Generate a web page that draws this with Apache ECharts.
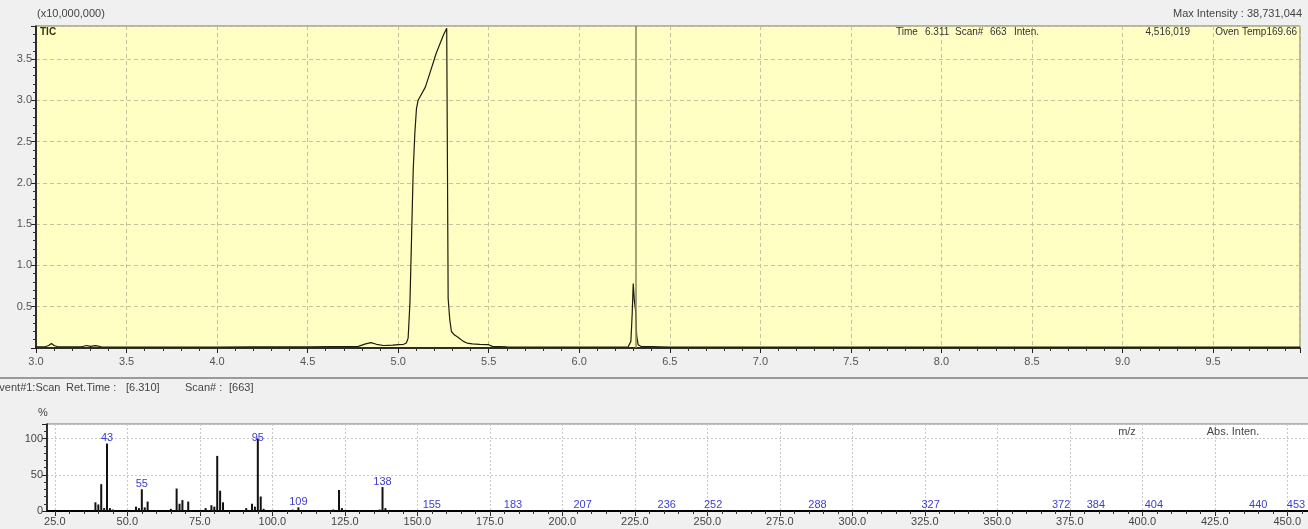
<!DOCTYPE html>
<html>
<head>
<meta charset="utf-8">
<script src="https://cdn.jsdelivr.net/npm/echarts@6/dist/echarts.min.js"></script>
<style>
  html, body { margin: 0; padding: 0; background: #f0f0f0; }
  #c { width: 1308px; height: 529px; }
</style>
</head>
<body>
<div id="c"></div>
<script>
// Total ion chromatogram: retention time (min) and intensity (x10,000,000)
const ticTime = [
  3.00, 3.05, 3.07, 3.085, 3.10, 3.12, 3.25, 3.28, 3.30, 3.33,
  3.36, 3.50, 3.80, 4.00, 4.20, 4.50, 4.78, 4.82, 4.85, 4.88,
  4.92, 4.97, 5.00, 5.03, 5.045, 5.055, 5.065, 5.074, 5.083, 5.092,
  5.101, 5.110, 5.120, 5.150, 5.175, 5.210, 5.250, 5.268, 5.276, 5.285,
  5.294, 5.310, 5.330, 5.335, 5.340, 5.360, 5.380, 5.410, 5.450, 5.500,
  5.520, 5.600, 6.000, 6.200, 6.270, 6.285, 6.292, 6.298, 6.304, 6.311,
  6.317, 6.325, 6.340, 6.450, 6.500, 7.000, 8.000, 9.000, 9.980
];
const ticValue = [
  0.015, 0.015, 0.030, 0.055, 0.030, 0.015, 0.015, 0.030, 0.020, 0.028,
  0.015, 0.012, 0.012, 0.012, 0.014, 0.015, 0.020, 0.050, 0.065, 0.045,
  0.030, 0.035, 0.040, 0.045, 0.060, 0.120, 0.550, 1.350, 2.150, 2.600,
  2.900, 3.000, 3.040, 3.160, 3.330, 3.570, 3.790, 3.873, 0.600, 0.340,
  0.200, 0.160, 0.130, 0.150, 0.120, 0.080, 0.060, 0.050, 0.045, 0.040,
  0.020, 0.015, 0.012, 0.012, 0.015, 0.080, 0.400, 0.780, 0.580, 0.4516,
  0.150, 0.040, 0.020, 0.015, 0.012, 0.010, 0.010, 0.010, 0.010
];
const scanTime = 6.311;

// Mass spectrum of scan 663: m/z and relative intensity (%)
const mzValues = [
  39, 40, 41, 42, 43, 44, 45, 53, 54, 55,
  56, 57, 65, 67, 68, 69, 71, 77, 79, 80,
  81, 82, 83, 91, 93, 94, 95, 96, 97, 107,
  109, 121, 123, 124, 137, 138, 139, 155, 183, 207,
  236, 252, 288, 327, 372, 384, 404, 440, 453
];
const mzPercent = [
  12, 9, 37, 4, 93, 4, 2, 6, 4, 30,
  5, 13, 3, 31, 10, 15, 13, 4, 8, 6,
  76, 28, 12, 4, 10, 6, 100, 20, 3, 2,
  5, 2, 29, 4, 2, 33, 4, 1, 1, 1,
  1, 1, 1, 1, 1, 1, 1, 1, 1
];
const mzLabeled = [43, 55, 95, 109, 138, 155, 183, 207, 236, 252, 288, 327, 372, 384, 404, 440, 453];
const mzTickLabels = [25, 50, 75, 100, 125, 150, 175, 200, 225, 250, 275, 300, 325, 350, 375, 400, 425, 450];

const FONT = '"Liberation Sans", Arial, sans-serif';
const mzMinorTicks = [];
for (let v = 25; v <= 460; v += 5) mzMinorTicks.push(v);

const ticData = ticTime.map((t, i) => [t, ticValue[i]]);
// the base-peak label is nudged down so it stays clear of the frame
const msData = mzValues.map((m, i) => ({
  value: [m, mzPercent[i]],
  label: {
    show: mzLabeled.indexOf(m) >= 0,
    distance: mzPercent[i] >= 99 ? -5 : 0
  }
}));

function text(x, y, s, opt) {
  opt = opt || {};
  return {
    type: 'text', x: x, y: y, silent: true, z: 100,
    style: {
      text: s,
      font: (opt.weight || 'normal') + ' ' + (opt.size || 11) + 'px ' + FONT,
      fill: opt.color || '#333',
      align: opt.align || 'left',
      verticalAlign: 'middle'
    }
  };
}

const chart = echarts.init(document.getElementById('c'), null, { renderer: 'canvas' });

const option = {
  backgroundColor: '#f0f0f0',
  animation: false,
  grid: [
    { left: 36, top: 26, width: 1264, height: 322, show: true, outerBoundsMode: 'none',
      backgroundColor: '#ffffc4', borderColor: '#6f6f6f', borderWidth: 1 },
    { left: 47, top: 424, width: 1271, height: 87, show: true, outerBoundsMode: 'none',
      backgroundColor: '#ffffff', borderColor: '#777777', borderWidth: 1 }
  ],
  xAxis: [
    {
      gridIndex: 0, type: 'value', min: 3, max: 9.98, interval: 0.5,
      axisLine: { onZero: false, lineStyle: { color: '#000', width: 1.5 } },
      axisTick: { length: 5, lineStyle: { color: '#222' } },
      minorTick: { show: true, splitNumber: 5, length: 3, lineStyle: { color: '#333' } },
      axisLabel: { showMaxLabel: false, formatter: v => v.toFixed(1),
        color: '#555', fontSize: 11, fontFamily: FONT, margin: 8 },
      splitLine: { show: true, lineStyle: { color: '#c4c49c', type: [4, 3] } }
    },
    {
      gridIndex: 1, type: 'value', min: 22.3, max: 460.6, position: 'bottom',
      axisLine: { onZero: false, lineStyle: { color: '#000', width: 2 } },
      axisTick: { customValues: mzTickLabels, length: 5, lineStyle: { color: '#222' } },
      axisLabel: { customValues: mzTickLabels, formatter: v => v.toFixed(1),
        color: '#444', fontSize: 11, fontFamily: FONT, margin: 5 },
      splitLine: { show: true, lineStyle: { color: '#c8c8c8', type: [2, 2] } }
    },
    {
      gridIndex: 1, type: 'value', min: 22.3, max: 460.6, position: 'bottom', offset: 0,
      axisLine: { show: false },
      axisTick: { customValues: mzMinorTicks, length: 3, lineStyle: { color: '#333' } },
      axisLabel: { show: false },
      splitLine: { show: false }
    }
  ],
  yAxis: [
    {
      gridIndex: 0, type: 'value', min: 0, max: 3.9, interval: 0.5,
      axisLine: { show: true, lineStyle: { color: '#000', width: 1.5 } },
      axisTick: { show: true, length: 5, lineStyle: { color: '#222' } },
      minorTick: { show: true, splitNumber: 5, length: 3, lineStyle: { color: '#333' } },
      axisLabel: { showMaxLabel: false, formatter: v => (v === 0 ? '' : v.toFixed(1)),
        color: '#555', fontSize: 11, fontFamily: FONT, margin: 4 },
      splitLine: { show: true, lineStyle: { color: '#c4c49c', type: [4, 3] } }
    },
    {
      gridIndex: 1, type: 'value', min: 0, max: 120, interval: 50,
      axisLine: { show: true, lineStyle: { color: '#000', width: 1.5 } },
      axisTick: { show: true, length: 5, lineStyle: { color: '#222' } },
      minorTick: { show: true, splitNumber: 5, length: 3, lineStyle: { color: '#333' } },
      axisLabel: { showMaxLabel: false, color: '#444', fontSize: 11, fontFamily: FONT, margin: 4 },
      splitLine: { show: true, lineStyle: { color: '#c8c8c8', type: [2, 2] } }
    }
  ],
  series: [
    {
      name: 'TIC', type: 'line', xAxisIndex: 0, yAxisIndex: 0,
      data: ticData, showSymbol: false, symbol: 'none',
      lineStyle: { color: '#1c1c0c', width: 1.2 },
      markLine: {
        silent: true, symbol: 'none', animation: false,
        label: { show: false },
        lineStyle: { color: '#86865e', width: 1.5, type: 'solid' },
        data: [{ xAxis: scanTime }]
      },
      z: 3
    },
    {
      name: 'Spectrum', type: 'bar', xAxisIndex: 1, yAxisIndex: 1,
      data: msData, barWidth: 2,
      itemStyle: { color: '#111' },
      label: {
        position: 'top',
        formatter: p => String(p.value[0]),
        color: '#3d3dd0', fontSize: 11, fontFamily: FONT
      },
      z: 3
    }
  ],
  graphic: [
    text(37, 14, '(x10,000,000)', { color: '#444' }),
    text(1302, 14, 'Max Intensity : 38,731,044', { align: 'right', color: '#444' }),
    text(40, 32, 'TIC', { color: '#33331a', weight: 'bold', size: 10 }),
    text(896, 32, 'Time', { size: 10 }),
    text(925, 32, '6.311', { size: 10 }),
    text(955, 32, 'Scan#', { size: 10 }),
    text(990, 32, '663', { size: 10 }),
    text(1014, 32, 'Inten.', { size: 10 }),
    text(1190, 32, '4,516,019', { align: 'right', size: 10 }),
    text(1297, 32, 'Oven Temp169.66', { align: 'right', size: 10 }),
    { type: 'rect', shape: { x: 0, y: 377, width: 1308, height: 2 }, silent: true,
      style: { fill: '#9a9a9a' } },
    text(-8, 388, 'Event#1:Scan', { color: '#444' }),
    text(66, 388, 'Ret.Time :', { color: '#444' }),
    text(126, 388, '[6.310]', { color: '#444' }),
    text(185, 388, 'Scan# :', { color: '#444' }),
    text(229, 388, '[663]', { color: '#444' }),
    text(43, 413, '%', { color: '#444', align: 'center' }),
    text(1127, 432, 'm/z', { color: '#444', align: 'center' }),
    text(1233, 432, 'Abs. Inten.', { color: '#444', align: 'center' })
  ]
};

chart.setOption(option);
</script>
</body>
</html>
